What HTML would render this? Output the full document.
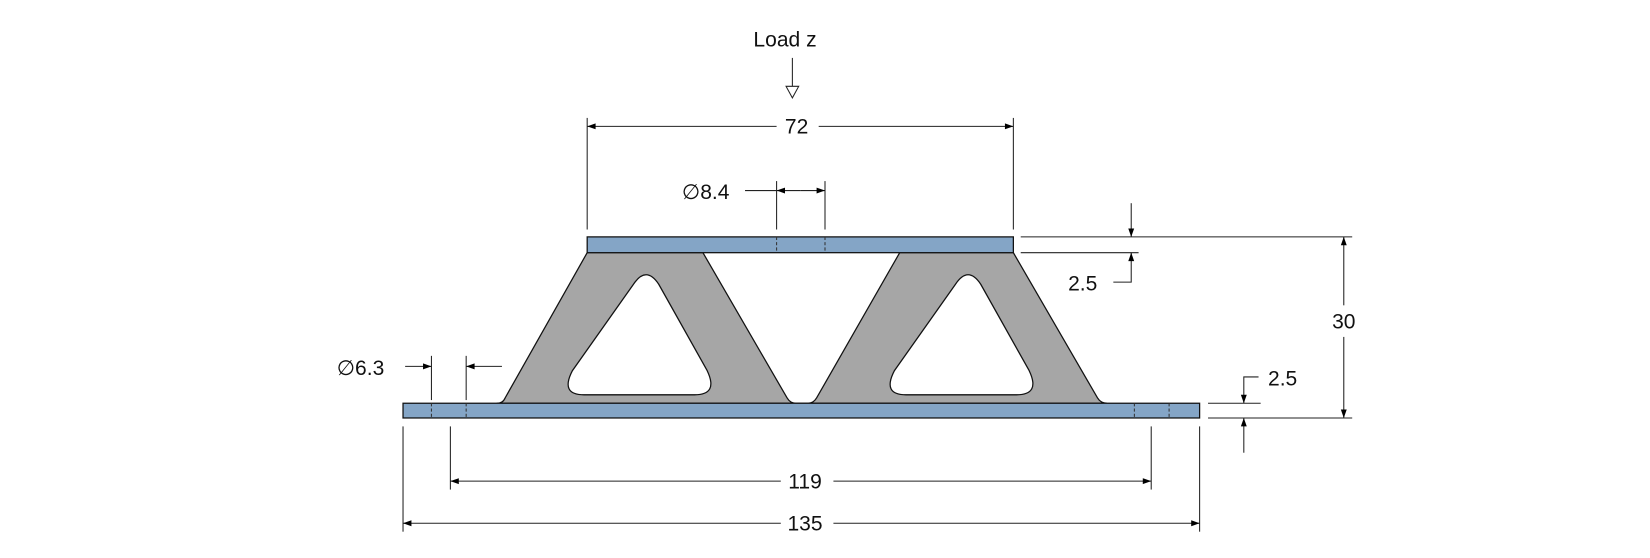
<!DOCTYPE html>
<html><head><style>
html,body{margin:0;padding:0;background:#fff;width:1650px;height:558px;overflow:hidden}
svg text{font-family:"Liberation Sans",Arial,sans-serif;font-size:20px;fill:#111}
</style></head><body>
<svg width="1650" height="558" viewBox="0 0 1568 530" preserveAspectRatio="none" xmlns="http://www.w3.org/2000/svg">
<defs>
<marker id="a" viewBox="0 0 10 10" refX="10" refY="5" markerWidth="16" markerHeight="8" markerUnits="userSpaceOnUse" orient="auto"><path d="M0,1.5 L10,5 L0,8.5 Z" fill="#000"/></marker>
</defs>
<path d="M472,383 Q478,383 480,378 L558,240 L668,240 L748,378 Q751,383 756,383 L768,383 Q773,383 776,378 L855,240 L963,240 L1043,378 Q1046,383 1052,383 Z" fill="#a6a6a6" stroke="#111" stroke-width="1.2"/>
<path d="M602,270 Q614,252 626,270 L672,352 Q683,375 660,375 L555,375 Q532,375 544,352 Z" fill="#fff" stroke="#111" stroke-width="1.2"/>
<path d="M908,270 Q920,252 932,270 L978,352 Q989,375 966,375 L861,375 Q838,375 850,352 Z" fill="#fff" stroke="#111" stroke-width="1.2"/>
<rect x="558" y="225" width="405" height="15" fill="#84a5c6" stroke="#111" stroke-width="1.2"/>
<rect x="383" y="383" width="757" height="14" fill="#84a5c6" stroke="#111" stroke-width="1.2"/>
<g stroke="#333" stroke-width="1" stroke-dasharray="3,2">
<line x1="738" y1="225" x2="738" y2="240"/><line x1="784" y1="225" x2="784" y2="240"/>
<line x1="410" y1="383" x2="410" y2="397"/><line x1="443" y1="383" x2="443" y2="397"/>
<line x1="1078" y1="383" x2="1078" y2="397"/><line x1="1111" y1="383" x2="1111" y2="397"/>
</g>
<g stroke="#222" stroke-width="1" fill="none">
<line x1="753" y1="55" x2="753" y2="82"/>
<path d="M747,82 L759,82 L753,93 Z" fill="#fff"/>
<line x1="558" y1="112" x2="558" y2="218"/><line x1="963" y1="112" x2="963" y2="218"/>
<line x1="738" y1="120" x2="558" y2="120" marker-end="url(#a)"/>
<line x1="778" y1="120" x2="963" y2="120" marker-end="url(#a)"/>
<line x1="738" y1="172" x2="738" y2="218"/><line x1="784" y1="172" x2="784" y2="218"/>
<line x1="708" y1="181" x2="738" y2="181"/>
<line x1="761" y1="181" x2="738" y2="181" marker-end="url(#a)"/>
<line x1="761" y1="181" x2="784" y2="181" marker-end="url(#a)"/>
<line x1="410" y1="338" x2="410" y2="380"/><line x1="443" y1="338" x2="443" y2="380"/>
<line x1="385" y1="348" x2="410" y2="348" marker-end="url(#a)"/>
<line x1="477" y1="348" x2="443" y2="348" marker-end="url(#a)"/>
<line x1="970" y1="225" x2="1285" y2="225"/><line x1="970" y1="240" x2="1082" y2="240"/>
<line x1="1075" y1="193" x2="1075" y2="225" marker-end="url(#a)"/>
<polyline points="1058,268 1075,268 1075,240" marker-end="url(#a)"/>
<line x1="1277" y1="290" x2="1277" y2="225" marker-end="url(#a)"/>
<line x1="1277" y1="320" x2="1277" y2="397" marker-end="url(#a)"/>
<line x1="1148" y1="383" x2="1198" y2="383"/><line x1="1148" y1="397" x2="1285" y2="397"/>
<polyline points="1196,358 1182,358 1182,383" marker-end="url(#a)"/>
<line x1="1182" y1="430" x2="1182" y2="397" marker-end="url(#a)"/>
<line x1="428" y1="405" x2="428" y2="465"/><line x1="1094" y1="405" x2="1094" y2="465"/>
<line x1="742" y1="457" x2="428" y2="457" marker-end="url(#a)"/>
<line x1="792" y1="457" x2="1094" y2="457" marker-end="url(#a)"/>
<line x1="383" y1="405" x2="383" y2="505"/><line x1="1140" y1="405" x2="1140" y2="505"/>
<line x1="742" y1="497" x2="383" y2="497" marker-end="url(#a)"/>
<line x1="792" y1="497" x2="1140" y2="497" marker-end="url(#a)"/>
</g>
<text x="716" y="44">Load z</text>
<text x="757" y="127" text-anchor="middle">72</text>
<text x="648" y="189">∅8.4</text>
<text x="320" y="356">∅6.3</text>
<text x="1015" y="276">2.5</text>
<text x="1277" y="312" text-anchor="middle">30</text>
<text x="1205" y="366">2.5</text>
<text x="765" y="464" text-anchor="middle">119</text>
<text x="765" y="504" text-anchor="middle">135</text>
</svg>
</body></html>
